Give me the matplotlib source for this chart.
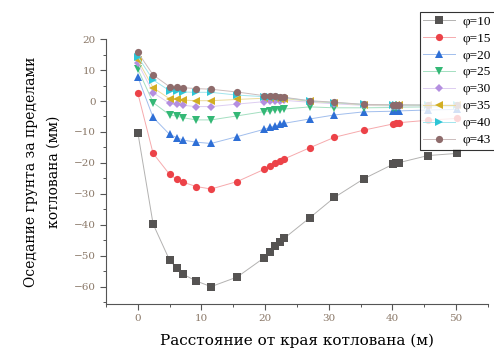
import matplotlib
matplotlib.use("Agg")
import matplotlib.pyplot as plt
from matplotlib.ticker import MultipleLocator
from matplotlib.colors import to_rgb

x = [0, 2.4, 5.0, 6.1, 7.1, 9.2, 11.5, 15.6, 19.9, 20.8, 21.6, 22.3, 23.0,
     27.0, 30.9, 35.5, 40.1, 40.6, 41.0, 45.6, 50.2]

phi10 = [-10.2, -39.7, -51.4, -53.9, -55.9, -58.1, -59.9, -56.8, -50.5, -48.6, -46.7,
         -45.4, -44.3, -37.7, -31.1, -25.1, -20.4, -20.1, -19.9, -17.6, -16.9]
phi15 = [2.5, -16.9, -23.7, -25.2, -26.2, -27.6, -28.4, -26.0, -22.0, -21.0, -20.1,
         -19.4, -18.7, -15.1, -11.7, -9.4, -7.4, -7.2, -7.0, -6.2, -5.6]
phi20 = [7.8, -5.3, -10.8, -11.8, -12.6, -13.3, -13.7, -11.5, -9.1, -8.5, -8.1,
         -7.5, -7.2, -5.8, -4.5, -3.5, -3.3, -3.2, -3.2, -2.9, -2.7]
phi25 = [10.3, -0.5, -4.5, -4.9, -5.4, -6.1, -6.1, -4.8, -3.4, -3.2, -3.0,
         -2.8, -2.6, -1.9, -2.2, -2.2, -2.1, -2.1, -2.0, -1.9, -1.8]
phi30 = [12.2, 2.7, -0.8, -1.1, -1.4, -1.8, -1.8, -1.0, -0.2, -0.1, 0.0,
         0.1, 0.2, -0.4, -0.9, -1.4, -1.6, -1.6, -1.6, -1.5, -1.5]
phi35 = [13.2, 4.3, 0.7, 0.5, 0.3, 0.1, 0.1, 0.5, 0.9, 0.9, 0.9,
         0.8, 0.8, -0.1, -0.6, -1.2, -1.4, -1.4, -1.4, -1.4, -1.4]
phi40 = [14.3, 6.8, 3.3, 3.1, 2.9, 2.8, 2.8, 1.9, 1.4, 1.4, 1.3,
         1.2, 1.1, 0.0, -0.5, -1.1, -1.3, -1.3, -1.3, -1.3, -1.3]
phi43 = [15.7, 8.4, 4.6, 4.5, 4.3, 4.0, 3.8, 2.9, 1.7, 1.6, 1.5,
         1.3, 1.2, 0.1, -0.4, -1.1, -1.2, -1.2, -1.2, -1.3, -1.3]

labels = ["φ=10", "φ=15", "φ=20", "φ=25", "φ=30", "φ=35", "φ=40", "φ=43"]
series = [phi10, phi15, phi20, phi25, phi30, phi35, phi40, phi43]
colors = ["#555352", "#ec4248", "#2e6fd6", "#34b876", "#b48fe0", "#d2ae22", "#2ec5d6", "#8e6b6b"]
markers = ["s", "o", "^", "v", "D", "<", ">", "o"]


def tint(c, f=0.55):
    r, g, b = to_rgb(c)
    return (r + (1 - r) * f, g + (1 - g) * f, b + (1 - b) * f)


plt.rcParams['font.family'] = ['DejaVu Serif']
fig = plt.figure(figsize=(4.94, 3.54), dpi=100)
ax = fig.add_axes([0.2146, 0.1412, 0.773, 0.7486])

for ys, lab, c, m in zip(series, labels, colors, markers):
    ms = 4.4 if m == "D" else 5.2
    ax.plot(x, ys, color=tint(c), lw=0.7, marker=m, ms=ms, mfc=c, mec=c,
            markeredgewidth=0, label=lab, zorder=3)

ax.set_xlim(-5, 55)
ax.set_ylim(-65.5, 20)
ax.xaxis.set_major_locator(MultipleLocator(10))
ax.xaxis.set_minor_locator(MultipleLocator(5))
ax.yaxis.set_major_locator(MultipleLocator(10))
ax.yaxis.set_minor_locator(MultipleLocator(5))
ax.spines['top'].set_visible(False)
ax.spines['right'].set_visible(False)
for s in ['left', 'bottom']:
    ax.spines[s].set_color('#555555')
    ax.spines[s].set_linewidth(0.8)
ax.tick_params(which='major', direction='out', length=4, width=0.8, color='#555555',
               labelsize=7.5, labelcolor='#8a7868')
ax.tick_params(which='minor', direction='out', length=2.5, width=0.7, color='#555555')

ax.set_xlabel("Расстояние от края котлована (м)", fontsize=11, labelpad=7)
ax.set_ylabel("Оседание грунта за пределами\nкотлована (мм)", fontsize=10,
              labelpad=9, linespacing=1.8)

leg = fig.legend(loc='upper left', bbox_to_anchor=(420 / 494, 1 - 12 / 354),
                 prop={'family': 'Liberation Serif', 'size': 9.5},
                 frameon=True, fancybox=False, edgecolor='black',
                 handlelength=2.4, borderpad=0.25, labelspacing=0.36,
                 handletextpad=0.6, borderaxespad=0)
leg.get_frame().set_linewidth(0.8)

fig.savefig("out.png", dpi=100)
